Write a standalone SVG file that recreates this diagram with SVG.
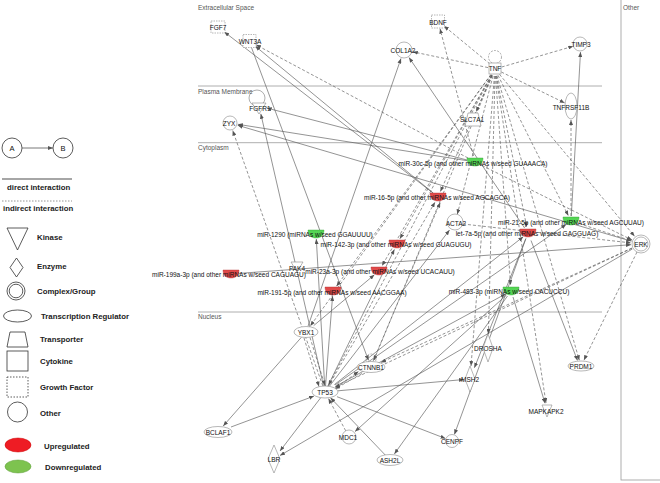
<svg xmlns="http://www.w3.org/2000/svg" width="660" height="483" viewBox="0 0 660 483">
<style>
text{font-family:"Liberation Sans",Arial,sans-serif;fill:#111}
.n{font-size:6.5px;text-anchor:middle;dominant-baseline:central}
.c{font-size:6.5px;fill:#555;dominant-baseline:central}
.lg{font-size:7.8px;font-weight:bold;dominant-baseline:central;fill:#222}
.sh{fill:#fff;stroke:#888;stroke-width:0.6}
.gf{fill:#fff;stroke:#888;stroke-width:0.6;stroke-dasharray:1.5,1}
.lp{fill:none;stroke:#777;stroke-width:0.6}
.lpd{fill:none;stroke:#777;stroke-width:0.6;stroke-dasharray:2,1.2}
.red{fill:#e04a4a;stroke:#b03030;stroke-width:0.4}
.grn{fill:#55d555;stroke:#2f9e2f;stroke-width:0.4}
.ls{fill:#fff;stroke:#333;stroke-width:0.8}
.comp{stroke:#999;stroke-width:0.8}
#edges line{stroke:#5a5a5a;stroke-width:0.65;marker-end:url(#ar)}
#edges line.i{stroke-dasharray:3,2}
</style>
<defs>
<marker id="ar" viewBox="0 0 10 8" refX="10" refY="4" markerWidth="5" markerHeight="4" markerUnits="userSpaceOnUse" orient="auto"><path d="M0,0 L10,4 L0,8 z" fill="#555"/></marker>
<path id="mir" d="M-8,-4 H8 C8,2 4,4 0,4 C-4,4 -8,2 -8,-4 Z"/>
</defs>
<rect width="660" height="483" fill="#fff"/>

<g id="legend">
<circle cx="12" cy="148" r="10" class="ls"/><text x="12" y="148" class="n" style="font-size:7.5px">A</text>
<circle cx="63" cy="148" r="10" class="ls"/><text x="63" y="148" class="n" style="font-size:7.5px">B</text>
<line x1="22" y1="148" x2="53" y2="148" stroke="#555" stroke-width="0.8" marker-end="url(#ar)"/>
<line x1="2" y1="179" x2="72" y2="179" stroke="#888" stroke-width="1.3"/>
<text x="7" y="187" class="lg">direct interaction</text>
<line x1="2" y1="201" x2="72" y2="201" stroke="#888" stroke-width="0.9" stroke-dasharray="1.5,1.5"/>
<text x="3" y="208.5" class="lg">indirect interaction</text>
<polygon points="7,228 28,228 17.5,250" class="ls"/><text x="37" y="237" class="lg">Kinase</text>
<polygon points="16.5,258 23,267.5 16.5,277 10,267.5" class="ls"/><text x="37" y="266" class="lg">Enzyme</text>
<circle cx="16" cy="291" r="9" class="ls"/><circle cx="16" cy="291" r="6.8" class="ls"/><text x="37" y="291" class="lg">Complex/Group</text>
<ellipse cx="17.5" cy="316" rx="14" ry="6" class="ls"/><text x="41" y="316.5" class="lg">Transcription Regulator</text>
<polygon points="10,332 25,332 28,347 7,347" class="ls"/><text x="40" y="339" class="lg">Transporter</text>
<rect x="7" y="351" width="21" height="20" class="ls"/><text x="40" y="361" class="lg">Cytokine</text>
<rect x="7" y="377" width="21" height="20" class="ls" stroke-dasharray="1.5,1.5"/><text x="40" y="387" class="lg">Growth Factor</text>
<circle cx="17.5" cy="412" r="10" class="ls"/><text x="40" y="413" class="lg">Other</text>
<ellipse cx="18" cy="445" rx="13" ry="7" fill="#ee1c24" stroke="#c00" stroke-width="0.5"/><text x="44" y="446" class="lg">Upregulated</text>
<ellipse cx="18" cy="466.5" rx="13" ry="6.5" fill="#7dc34f" stroke="#5a9a35" stroke-width="0.5"/><text x="45" y="467" class="lg">Downregulated</text>
</g>

<g id="compartments">
<line x1="198" y1="86" x2="602" y2="86" class="comp"/>
<line x1="198" y1="142.7" x2="602" y2="142.7" class="comp"/>
<line x1="198" y1="312" x2="602" y2="312" class="comp"/>
<rect x="621" y="-2" width="45" height="482" fill="none" stroke="#999" stroke-width="0.8"/>
<text x="198" y="7" class="c">Extracellular Space</text>
<text x="198" y="91" class="c">Plasma Membrane</text>
<text x="198" y="147" class="c">Cytoplasm</text>
<text x="198" y="316.5" class="c">Nucleus</text>
<text x="623" y="7.5" class="c">Other</text>
</g>

<g id="edges">
<line class="i" x1="490" y1="64" x2="444" y2="26"/>
<line class="i" x1="501.7" y1="67" x2="573.3" y2="46.2"/>
<line class="i" x1="501.3" y1="72" x2="564.7" y2="102.9"/>
<line class="i" x1="488" y1="67.6" x2="412.8" y2="51.8"/>
<line class="i" x1="492" y1="75.4" x2="476.2" y2="111.7"/>
<line class="i" x1="499.5" y1="74.4" x2="634.6" y2="236.3"/>
<line class="i" x1="497" y1="75.7" x2="579.3" y2="360.2"/>
<line class="i" x1="496" y1="76" x2="546" y2="403"/>
<line class="i" x1="494.4" y1="76" x2="471" y2="366"/>
<line class="i" x1="495" y1="76" x2="488.4" y2="334"/>
<line class="i" x1="493" y1="76" x2="457.3" y2="214.3"/>
<line class="i" x1="491.7" y1="75.2" x2="328.5" y2="385.3"/>
<line class="i" x1="492.3" y1="75.5" x2="373.7" y2="360.5"/>
<line class="i" x1="490.9" y1="74.7" x2="310.3" y2="326"/>
<line class="i" x1="492" y1="75.4" x2="440.4" y2="191.5"/>
<line class="i" x1="491.6" y1="75" x2="399.9" y2="238.8"/>
<line class="i" x1="491.5" y1="75" x2="382" y2="265.8"/>
<line class="i" x1="498" y1="75.3" x2="568.3" y2="215.6"/>
<line class="i" x1="496.4" y1="76" x2="526.8" y2="227.1"/>
<line class="i" x1="495.5" y1="76" x2="510.6" y2="285"/>
<line class="i" x1="490.9" y1="74.6" x2="336.5" y2="286.2"/>
<line class="i" x1="482" y1="165.5" x2="632" y2="240"/>
<line class="i" x1="463" y1="224" x2="631" y2="242.9"/>
<line class="i" x1="631.9" y1="248.1" x2="381" y2="362.4"/>
<line class="i" x1="632" y1="248.2" x2="335" y2="387.3"/>
<line class="i" x1="637" y1="252" x2="583.9" y2="360.2"/>
<line class="i" x1="579" y1="223.5" x2="631.5" y2="240.9"/>
<line class="i" x1="468" y1="158" x2="256" y2="44.8"/>
<line class="i" x1="473.5" y1="156" x2="440" y2="28.7"/>
<line class="i" x1="571" y1="216" x2="571" y2="120"/>
<line class="i" x1="345.7" y1="430.8" x2="328.5" y2="398.6"/>
<line class="i" x1="304" y1="338" x2="319" y2="386.5"/>
<line class="i" x1="310" y1="337.5" x2="325" y2="385.5"/>
<line class="i" x1="328" y1="386.8" x2="435" y2="202.2"/>
<line class="i" x1="373" y1="361.4" x2="440.2" y2="202.6"/>
<line class="i" x1="322.8" y1="385.9" x2="232.7" y2="130.5"/>
<line class="i" x1="362" y1="373.5" x2="335" y2="389"/>
<line class="i" x1="337" y1="387" x2="358.5" y2="371.5"/>
<line x1="631.4" y1="241.2" x2="237.7" y2="125.3"/>
<line x1="239" y1="273.4" x2="631" y2="244.7"/>
<line x1="433" y1="193" x2="224.3" y2="31.9"/>
<line x1="433.4" y1="193.2" x2="255.2" y2="46.1"/>
<line x1="467" y1="160" x2="266.7" y2="108"/>
<line x1="467" y1="160.7" x2="237.9" y2="124.3"/>
<line x1="308" y1="326.3" x2="401" y2="58.5"/>
<line x1="524.6" y1="228" x2="409" y2="57.5"/>
<line x1="571.3" y1="216" x2="580.5" y2="52"/>
<line x1="531" y1="240.5" x2="577.5" y2="360.5"/>
<line x1="513" y1="297" x2="545" y2="403.3"/>
<line x1="338" y1="390.8" x2="464" y2="379.5"/>
<line x1="337" y1="396.7" x2="445.5" y2="438.5"/>
<line x1="525.9" y1="238.6" x2="454.4" y2="434.4"/>
<line x1="525.8" y1="238.6" x2="474.4" y2="367.8"/>
<line x1="320.8" y1="397.6" x2="280" y2="451"/>
<line x1="301.4" y1="337.3" x2="223.2" y2="426"/>
<line x1="231" y1="427" x2="314" y2="396.1"/>
<line x1="507.5" y1="296" x2="394.4" y2="453.9"/>
<line x1="506.5" y1="295" x2="355" y2="431.6"/>
<line x1="632.4" y1="249" x2="280" y2="455.5"/>
<line x1="385.9" y1="455.7" x2="330.5" y2="397.8"/>
<line x1="324.7" y1="386" x2="316.3" y2="239"/>
<line x1="325.5" y1="386" x2="332.6" y2="296"/>
<line x1="313.7" y1="325.6" x2="374.4" y2="274.8"/>
<line x1="327.6" y1="386.6" x2="394.4" y2="249.4"/>
<line x1="334.4" y1="384.6" x2="523.3" y2="236.7"/>
<line x1="335" y1="385" x2="566.1" y2="224.4"/>
<line x1="251.5" y1="47.6" x2="368.5" y2="360.4"/>
<line x1="323.5" y1="385.7" x2="260.8" y2="113.8"/>
<line x1="335.5" y1="386.3" x2="505.7" y2="293.9"/>
<line x1="329.3" y1="386.4" x2="449.5" y2="230.1"/>
</g>

<g id="FGF7"><rect x="211" y="21" width="14" height="12" class="gf"/><text x="218" y="27" class="n">FGF7</text></g>
<g id="WNT3A"><rect x="243" y="34.5" width="13" height="13" class="gf"/><text x="250" y="41" class="n">WNT3A</text></g>
<g id="COL1A2"><circle cx="404" cy="50" r="8" class="sh"/><text x="403" y="50" class="n">COL1A2</text></g>
<g id="BDNF"><rect x="431.5" y="15" width="13" height="13" class="gf"/><text x="438" y="22" class="n">BDNF</text></g>
<g id="TNF"><circle cx="495" cy="57" r="6.5" class="lpd"/><rect x="489" y="63" width="12" height="11" class="sh"/><text x="495" y="68" class="n">TNF</text></g>
<g id="TIMP3"><circle cx="580" cy="44" r="7" class="sh"/><text x="581" y="44" class="n">TIMP3</text></g>
<g id="TNFRSF11B"><ellipse cx="571" cy="106" rx="6" ry="13" class="sh"/><text x="571" y="107" class="n">TNFRSF11B</text></g>
<g id="SLC7A1"><polygon points="468,113 478,113 481,126 465,126" class="sh"/><text x="472" y="119" class="n">SLC7A1</text></g>
<g id="FGFR1"><circle cx="257" cy="98" r="8" class="lp"/><polygon points="252,103 266,103 259,114" class="sh"/><text x="260" y="108" class="n">FGFR1</text></g>
<g id="ZYX"><circle cx="230" cy="123" r="7" class="sh"/><text x="229" y="123" class="n">ZYX</text></g>
<g id="ACTA2"><circle cx="455" cy="222" r="8" class="sh"/><text x="456" y="223" class="n">ACTA2</text></g>
<g id="ERK"><circle cx="641" cy="244" r="9" class="sh"/><circle cx="641" cy="244" r="7" class="sh"/><text x="641" y="244" class="n">ERK</text></g>
<g id="PAK4"><polygon points="291,262 303,262 297,272" class="sh"/><text x="297" y="268" class="n">PAK4</text></g>
<g id="YBX1"><ellipse cx="306" cy="332" rx="12" ry="5.5" class="sh"/><text x="306" y="332" class="n">YBX1</text></g>
<g id="CTNNB1"><circle cx="371" cy="359" r="5" class="lpd"/><ellipse cx="371" cy="367" rx="14" ry="5.5" class="sh"/><text x="371" y="367" class="n">CTNNB1</text></g>
<g id="TP53"><ellipse cx="325" cy="392" rx="13" ry="6" class="sh"/><text x="325" y="392" class="n">TP53</text></g>
<g id="DROSHA"><polygon points="488,334 493,348 488,362 483,348" class="sh"/><text x="488" y="348" class="n">DROSHA</text></g>
<g id="MSH2"><polygon points="470,366 475,379 470,392 465,379" class="sh"/><text x="470" y="379" class="n">MSH2</text></g>
<g id="PRDM1"><ellipse cx="581" cy="366" rx="13" ry="5" class="sh"/><text x="581" y="366" class="n">PRDM1</text></g>
<g id="MAPKAPK2"><polygon points="542,405 552,405 547,417" class="sh"/><text x="546" y="411.5" class="n">MAPKAPK2</text></g>
<g id="CENPF"><circle cx="452" cy="441" r="6.5" class="sh"/><text x="452" y="441" class="n">CENPF</text></g>
<g id="BCLAF1"><ellipse cx="218" cy="432" rx="14" ry="5.5" class="sh"/><text x="218" y="432" class="n">BCLAF1</text></g>
<g id="MDC1"><circle cx="349" cy="437" r="7" class="sh"/><text x="348" y="437.5" class="n">MDC1</text></g>
<g id="LBR"><polygon points="274,445 280,459 274,473 268,459" class="sh"/><text x="274" y="459" class="n">LBR</text></g>
<g id="ASH2L"><ellipse cx="390" cy="460" rx="13" ry="5.5" class="sh"/><text x="390" y="460" class="n">ASH2L</text></g>

<g id="miR-30c-5p"><use href="#mir" x="475" y="162" class="grn"/><text x="473" y="163" class="n">miR-30c-5p (and other miRNAs w/seed GUAAACA)</text></g>
<g id="miR-16-5p"><use href="#mir" x="438" y="197" class="red"/><text x="437" y="197" class="n">miR-16-5p (and other miRNAs w/seed AGCAGCA)</text></g>
<g id="miR-1290"><use href="#mir" x="316" y="234" class="grn"/><text x="315" y="234" class="n">miR-1290 (miRNAs w/seed GGAUUUU)</text></g>
<g id="miR-142-3p"><use href="#mir" x="397" y="244" class="red"/><text x="396" y="244" class="n">miR-142-3p (and other miRNAs w/seed GUAGUGU)</text></g>
<g id="miR-21-5p"><use href="#mir" x="571" y="221" class="grn"/><text x="571" y="222" class="n">miR-21-5p (and other miRNAs w/seed AGCUUAU)</text></g>
<g id="let-7a-5p"><use href="#mir" x="528" y="233" class="red"/><text x="527" y="233" class="n">let-7a-5p (and other miRNAs w/seed GAGGUAG)</text></g>
<g id="miR-199a-3p"><use href="#mir" x="231" y="274" class="red"/><text x="229" y="274" class="n">miR-199a-3p (and other miRNAs w/seed CAGUAGU)</text></g>
<g id="miR-23a-3p"><use href="#mir" x="379" y="271" class="red"/><text x="380" y="271" class="n">miR-23a-3p (and other miRNAs w/seed UCACAUU)</text></g>
<g id="miR-191-5p"><use href="#mir" x="333" y="291" class="red"/><text x="332" y="292" class="n">miR-191-5p (and other miRNAs w/seed AACGGAA)</text></g>
<g id="miR-483-3p"><use href="#mir" x="511" y="291" class="grn"/><text x="509" y="291" class="n">miR-483-3p (miRNAs w/seed CACUCCU)</text></g>
</svg>
